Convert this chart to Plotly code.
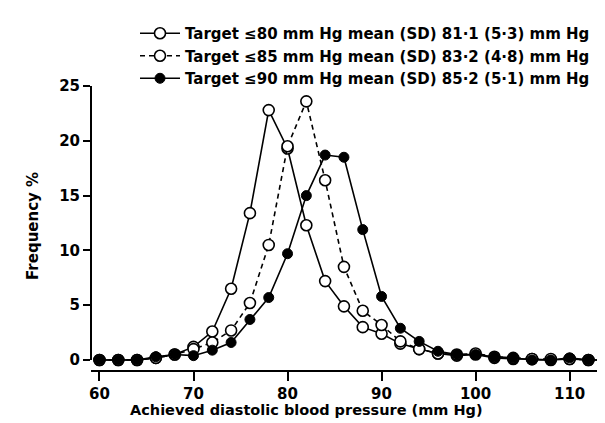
import plotly.graph_objects as go

# ---- data ----
dbp = list(range(60, 116, 2))  # achieved diastolic BP (mm Hg)

freq_target80 = [0, 0, 0, 0.2, 0.5, 1.2, 2.6, 6.5, 13.4, 22.8, 19.3, 12.3, 7.2, 4.9,
                 3.0, 2.4, 1.5, 1.0, 0.6, 0.4, 0.5, 0.2, 0.1, 0.1, 0, 0.1, 0, 0]
freq_target85 = [0, 0, 0, 0.2, 0.5, 1.0, 1.6, 2.7, 5.2, 10.5, 19.5, 23.6, 16.4, 8.5,
                 4.5, 3.2, 1.7, 1.0, 0.6, 0.5, 0.6, 0.3, 0.2, 0.1, 0.1, 0.1, 0, 0]
freq_target90 = [0, 0, 0, 0.3, 0.5, 0.4, 0.9, 1.6, 3.7, 5.7, 9.7, 15.0, 18.7, 18.5,
                 11.9, 5.8, 2.9, 1.7, 0.8, 0.5, 0.5, 0.3, 0.2, 0, 0, 0.2, 0, 0]

series_names = [
    "Target \u226480 mm Hg mean (SD) 81\u00b71 (5\u00b73) mm Hg",
    "Target \u226485 mm Hg mean (SD) 83\u00b72 (4\u00b78) mm Hg",
    "Target \u226490 mm Hg mean (SD) 85\u00b72 (5\u00b71) mm Hg",
]
x_ticks = [60, 70, 80, 90, 100, 110]
y_ticks = [0, 5, 10, 15, 20, 25]
x_title = "Achieved diastolic blood pressure (mm Hg)"
y_title = "Frequency %"

FONT = "DejaVu Sans, Liberation Sans, Arial"
TXT = dict(family=FONT, size=15, color="black", weight="bold")

fig = go.Figure()
fig.add_trace(go.Scatter(
    x=dbp, y=freq_target80, name=series_names[0], mode="lines+markers",
    line=dict(color="black", width=1.6, dash="solid"),
    marker=dict(symbol="circle", size=11, color="white",
                line=dict(color="black", width=1.6)),
))
fig.add_trace(go.Scatter(
    x=dbp, y=freq_target85, name=series_names[1], mode="lines+markers",
    line=dict(color="black", width=1.6, dash="5px,4px"),
    marker=dict(symbol="circle", size=11, color="white",
                line=dict(color="black", width=1.6)),
))
fig.add_trace(go.Scatter(
    x=dbp, y=freq_target90, name=series_names[2], mode="lines+markers",
    line=dict(color="black", width=1.6, dash="solid"),
    marker=dict(symbol="circle", size=10, color="black",
                line=dict(color="black", width=1)),
))

# axis lines (y axis stops at 0, x axis sits slightly below 0)
fig.add_shape(type="line", xref="paper", yref="y", x0=0, x1=0, y0=0, y1=25,
              line=dict(color="black", width=2))
fig.add_shape(type="line", xref="paper", yref="paper", x0=0, x1=1, y0=0, y1=0,
              line=dict(color="black", width=2))

# axis titles as annotations (positioned like the reference)
fig.add_annotation(text=x_title, xref="paper", yref="paper", x=0.415, y=-0.137,
                   xanchor="center", yanchor="middle", showarrow=False,
                   font=dict(family=FONT, size=14.5, color="black", weight="bold"))
fig.add_annotation(text=y_title, xref="paper", yref="paper", x=-0.1115, y=0.509,
                   xanchor="center", yanchor="middle", showarrow=False, textangle=-90,
                   font=TXT)

fig.update_layout(
    width=605, height=423,
    margin=dict(l=83, r=2, t=78, b=60),
    paper_bgcolor="white", plot_bgcolor="white",
    font=TXT,
    showlegend=True,
    legend=dict(x=(127 - 83) / 520, y=1.242, xanchor="left", yanchor="top",
                bgcolor="rgba(0,0,0,0)", font=TXT,
                itemwidth=40, tracegroupgap=0, borderwidth=0),
    xaxis=dict(range=[59.1, 114.4], tickvals=x_ticks, ticks="outside", ticklen=9,
               tickwidth=2, tickcolor="black", showgrid=False, zeroline=False,
               showline=False, tickfont=TXT),
    yaxis=dict(range=[-1, 25], tickvals=y_ticks, ticks="outside", ticklen=7,
               tickwidth=2, tickcolor="black", showgrid=False, zeroline=False,
               showline=False, tickfont=TXT),
)

fig.write_html("out.html")
